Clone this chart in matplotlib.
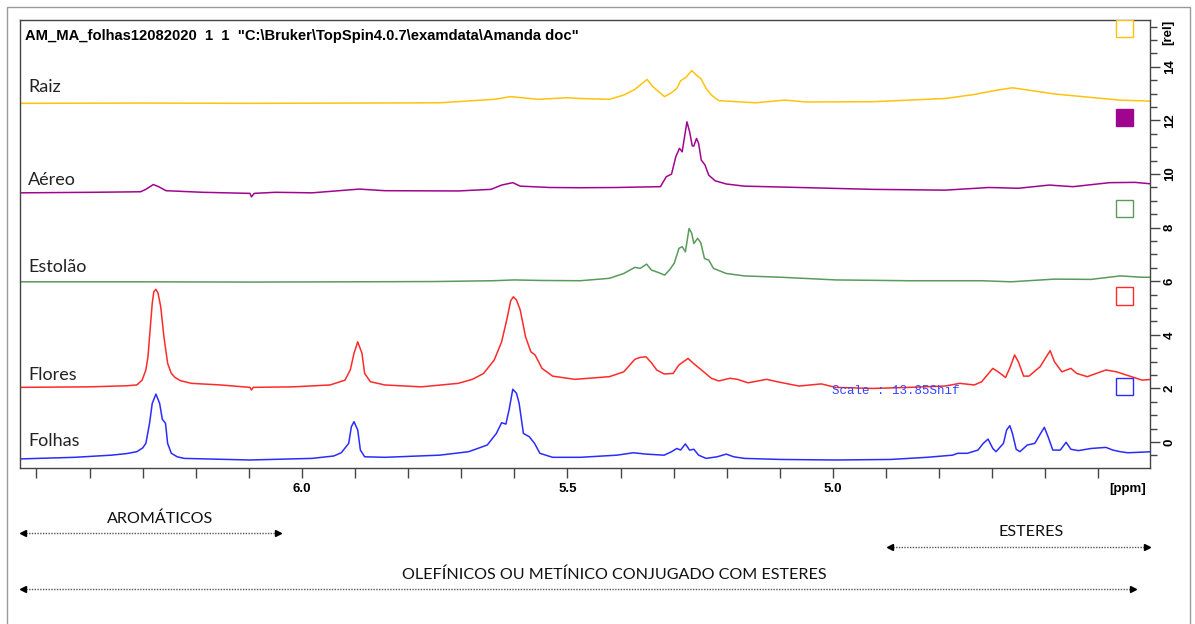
import numpy as np
import matplotlib
matplotlib.use('Agg')
import matplotlib.pyplot as plt
from matplotlib.patches import Rectangle
from matplotlib.ticker import FixedLocator, FuncFormatter
import matplotlib.transforms as mtransforms

## spectra: (ppm, intensity [rel]) points
raiz_ppm = [6.531, 6.30, 6.10, 5.90, 5.741, 5.638, 5.607, 5.555, 5.500, 5.476, 5.421, 5.394,
            5.373, 5.361, 5.350, 5.339, 5.328, 5.317, 5.304, 5.294, 5.287, 5.277, 5.266, 5.257,
            5.249, 5.239, 5.229, 5.215, 5.146, 5.091, 5.050, 4.926, 4.789, 4.734, 4.692, 4.662,
            4.624, 4.583, 4.514, 4.459, 4.398]
raiz_val = [12.64, 12.65, 12.64, 12.65, 12.66, 12.79, 12.89, 12.79, 12.85, 12.82, 12.79, 12.95,
            13.16, 13.36, 13.53, 13.26, 13.07, 12.89, 13.04, 13.20, 13.48, 13.61, 13.86, 13.69,
            13.57, 13.20, 12.95, 12.74, 12.66, 12.76, 12.69, 12.70, 12.82, 12.97, 13.13, 13.22,
            13.11, 12.99, 12.86, 12.76, 12.72]

aereo_ppm = [6.531, 6.394, 6.304, 6.294, 6.280, 6.270, 6.256, 6.187, 6.098, 6.095, 6.090, 6.050,
             5.981, 5.892, 5.844, 5.706, 5.644, 5.624, 5.603, 5.589, 5.534, 5.476, 5.407, 5.325,
             5.314, 5.304, 5.296, 5.289, 5.284, 5.279, 5.275, 5.270, 5.265, 5.262, 5.257, 5.253,
             5.248, 5.241, 5.234, 5.222, 5.201, 5.167, 5.064, 4.926, 4.789, 4.706, 4.651, 4.593,
             4.548, 4.479, 4.431, 4.398]
aereo_val = [9.30, 9.32, 9.34, 9.43, 9.61, 9.53, 9.38, 9.32, 9.28, 9.15, 9.28, 9.32,
             9.30, 9.44, 9.38, 9.37, 9.43, 9.59, 9.68, 9.55, 9.50, 9.49, 9.50, 9.53,
             9.90, 10.00, 10.65, 10.96, 10.83, 11.46, 11.95, 11.58, 11.05, 11.05, 11.33, 11.14,
             10.52, 10.34, 9.96, 9.75, 9.63, 9.55, 9.50, 9.43, 9.40, 9.50, 9.47, 9.59,
             9.53, 9.68, 9.69, 9.63]

estolao_ppm = [6.531, 6.30, 6.10, 5.90, 5.75, 5.64, 5.60, 5.55, 5.476, 5.421, 5.394, 5.373,
               5.363, 5.351, 5.342, 5.328, 5.317, 5.308, 5.299, 5.290, 5.284, 5.278, 5.271, 5.266,
               5.262, 5.255, 5.249, 5.242, 5.234, 5.225, 5.201, 5.167, 5.098, 4.995, 4.857, 4.720,
               4.665, 4.583, 4.514, 4.459, 4.418, 4.398]
estolao_val = [5.98, 5.98, 5.97, 5.98, 5.99, 6.02, 6.05, 6.03, 6.02, 6.11, 6.29, 6.52,
               6.48, 6.64, 6.42, 6.32, 6.23, 6.42, 6.67, 7.23, 7.29, 7.10, 7.97, 7.79,
               7.41, 7.60, 7.44, 6.85, 6.79, 6.48, 6.29, 6.20, 6.15, 6.05, 6.02, 6.02,
               5.98, 6.08, 6.07, 6.20, 6.15, 6.15]

flores_ppm = [6.531, 6.40, 6.330, 6.311, 6.301, 6.294, 6.290, 6.287, 6.282, 6.279, 6.275, 6.271,
              6.266, 6.260, 6.253, 6.246, 6.239, 6.229, 6.208, 6.153, 6.098, 6.095, 6.092, 6.016,
              5.947, 5.919, 5.909, 5.902, 5.895, 5.887, 5.882, 5.871, 5.844, 5.775, 5.706, 5.679,
              5.658, 5.638, 5.624, 5.613, 5.607, 5.602, 5.596, 5.589, 5.579, 5.569, 5.561, 5.548,
              5.528, 5.486, 5.421, 5.394, 5.373, 5.363, 5.352, 5.342, 5.332, 5.318, 5.301, 5.290,
              5.273, 5.263, 5.249, 5.229, 5.215, 5.194, 5.180, 5.160, 5.125, 5.105, 5.064, 5.022,
              4.995, 4.926, 4.857, 4.789, 4.761, 4.734, 4.720, 4.699, 4.689, 4.675, 4.666, 4.658,
              4.651, 4.641, 4.631, 4.610, 4.591, 4.583, 4.569, 4.552, 4.541, 4.521, 4.486, 4.466,
              4.438, 4.418, 4.400]
flores_val = [2.04, 2.06, 2.10, 2.13, 2.31, 2.69, 3.18, 3.93, 5.17, 5.61, 5.70, 5.55,
              5.05, 3.93, 2.94, 2.56, 2.41, 2.29, 2.19, 2.13, 2.04, 1.94, 2.04, 2.06,
              2.13, 2.31, 2.69, 3.31, 3.74, 3.31, 2.56, 2.25, 2.13, 2.06, 2.19, 2.34,
              2.56, 3.06, 3.74, 4.68, 5.27, 5.42, 5.30, 4.93, 3.93, 3.37, 3.25, 2.75,
              2.46, 2.34, 2.44, 2.62, 3.09, 3.16, 3.18, 2.96, 2.69, 2.54, 2.56, 2.88,
              3.12, 2.94, 2.71, 2.38, 2.28, 2.38, 2.34, 2.21, 2.34, 2.25, 2.09, 2.17,
              2.04, 2.00, 2.04, 2.09, 2.19, 2.13, 2.25, 2.75, 2.62, 2.41, 2.81, 3.25,
              3.00, 2.46, 2.46, 2.81, 3.41, 3.00, 2.62, 2.75, 2.56, 2.44, 2.69, 2.62,
              2.44, 2.31, 2.34]

folhas_ppm = [6.531, 6.428, 6.359, 6.330, 6.311, 6.300, 6.294, 6.287, 6.282, 6.275, 6.268, 6.263,
              6.257, 6.253, 6.246, 6.235, 6.222, 6.098, 5.981, 5.940, 5.926, 5.912, 5.907, 5.902,
              5.895, 5.890, 5.882, 5.844, 5.741, 5.686, 5.651, 5.634, 5.624, 5.616, 5.610, 5.603,
              5.596, 5.591, 5.583, 5.572, 5.562, 5.552, 5.528, 5.476, 5.407, 5.376, 5.352, 5.318,
              5.304, 5.294, 5.287, 5.278, 5.270, 5.262, 5.253, 5.239, 5.218, 5.201, 5.187, 5.167,
              5.098, 4.995, 4.892, 4.823, 4.775, 4.765, 4.747, 4.727, 4.717, 4.708, 4.699, 4.693,
              4.679, 4.673, 4.667, 4.662, 4.655, 4.648, 4.634, 4.620, 4.609, 4.602, 4.595, 4.586,
              4.572, 4.561, 4.552, 4.538, 4.514, 4.486, 4.473, 4.459, 4.445, 4.398]
folhas_val = [-0.63, -0.57, -0.49, -0.43, -0.36, -0.22, -0.05, 0.70, 1.44, 1.79, 1.44, 0.85,
              0.70, -0.05, -0.42, -0.55, -0.61, -0.67, -0.61, -0.52, -0.40, -0.05, 0.57, 0.76,
              0.45, -0.30, -0.55, -0.57, -0.49, -0.36, -0.11, 0.32, 0.72, 0.67, 1.20, 1.97,
              1.82, 1.44, 0.32, 0.20, -0.05, -0.42, -0.57, -0.57, -0.49, -0.40, -0.45, -0.49,
              -0.36, -0.24, -0.30, -0.07, -0.30, -0.27, -0.49, -0.61, -0.55, -0.45, -0.55, -0.61,
              -0.65, -0.67, -0.65, -0.57, -0.49, -0.42, -0.42, -0.30, -0.05, 0.11, -0.24, -0.36,
              -0.05, 0.45, 0.61, 0.32, -0.27, -0.36, -0.11, -0.05, 0.32, 0.55, 0.20, -0.30,
              -0.30, -0.01, -0.27, -0.32, -0.24, -0.20, -0.30, -0.36, -0.40, -0.36]

names = ['Raiz', 'Aéreo', 'Estolão', 'Flores', 'Folhas']
colors = ['#FFC20E', '#A0058F', '#5B9A5B', '#FF2A2A', '#2B2BFF']
label_rel = [13.25, 9.78, 6.53, 2.50, 0.04]

## region annotations below the plot (ppm ranges)
regions = [('AROMÁTICOS', 6.525, 6.045, 6.267),
           ('ESTERES', 4.893, 4.409, 4.627),
           ('OLEFÍNICOS OU METÍNICO CONJUGADO COM ESTERES', 6.525, 4.435, 5.411)]

title = 'AM_MA_folhas12082020  1  1  "C:\\Bruker\\TopSpin4.0.7\\examdata\\Amanda doc"'

W, H = 1195, 624
fig = plt.figure(figsize=(W / 100, H / 100), dpi=100)
ax = fig.add_axes([20 / W, 1 - 467.5 / H, 1130 / W, 447.5 / H])

series = [(raiz_ppm, raiz_val), (aereo_ppm, aereo_val), (estolao_ppm, estolao_val),
          (flores_ppm, flores_val), (folhas_ppm, folhas_val)]
for (p, v), c in zip(series, colors):
    ax.plot(p, v, color=c, lw=1.1, solid_joinstyle='round')

ax.set_xlim(6.531, 4.403)
ax.set_ylim(-0.95, 15.75)

## spectrum names
for n, y, c in zip(names, label_rel, colors):
    ax.text(6.516, y, n, fontsize=13, family='Lato', color='#222222', va='center', ha='left')

## colour boxes on the right edge (topspin style)
box_rel = [15.43, 12.11, 8.72, 5.45, 2.07]
for i, (y, c) in enumerate(zip(box_rel, colors)):
    r = Rectangle((4.435, y - 0.32), 0.032, 0.64, facecolor=c if i == 1 else 'white',
                  edgecolor=c, lw=1.0, zorder=5)
    ax.add_patch(r)

ax.text(5.002, 1.90, 'Scale : 13.85Shif', fontsize=9, family='Liberation Mono',
        color='#3344FF', va='center', ha='left')

ax.text(0.0044, 0.964, title, transform=ax.transAxes, fontsize=10.6, fontweight='bold',
        family='Liberation Sans', va='center', ha='left')

## axes styling
for s in ax.spines.values():
    s.set_color('#444444')
    s.set_linewidth(1.0)

ax.xaxis.set_major_locator(FixedLocator([round(4.5 + 0.1 * i, 1) for i in range(21)]))
ax.xaxis.set_major_formatter(FuncFormatter(
    lambda v, p: f'{v:.1f}' if round(v * 10) in (60, 55, 50) else ''))
ax.tick_params(axis='x', direction='out', length=7, width=1, color='#444444', pad=4,
               labelsize=9.5)
for t in ax.get_xticklabels():
    t.set_fontweight('bold')
    t.set_family('Liberation Sans')

ax.yaxis.tick_right()
ax.yaxis.set_major_locator(FixedLocator([0, 2, 4, 6, 8, 10, 12, 14]))
ax.yaxis.set_minor_locator(FixedLocator([-0.5 + 0.5 * i for i in range(33)]))
ax.tick_params(axis='y', which='major', direction='out', length=7, width=1, color='#444444',
               pad=3, labelsize=9.5, labelrotation=90)
ax.tick_params(axis='y', which='minor', direction='out', length=5, width=1, color='#444444')
for t in ax.get_yticklabels():
    t.set_fontweight('bold')
    t.set_family('Liberation Sans')
    t.set_va('center')

ax.text(4.446, -1.75, '[ppm]', fontsize=9.5, fontweight='bold', family='Liberation Sans',
        ha='center', va='center', clip_on=False)
ax.text(1.016, 15.3, '[rel]', transform=mtransforms.blended_transform_factory(ax.transAxes, ax.transData),
        fontsize=9.5, fontweight='bold', family='Liberation Sans', rotation=90,
        ha='center', va='center', clip_on=False)

## outer frame
fig.patches.append(Rectangle((7 / W, -0.05), (1190 - 7) / W, 1 - 7 / H + 0.05,
                             transform=fig.transFigure, fill=False, ec='#9a9a9a', lw=1.0))

## region annotations
tr = mtransforms.blended_transform_factory(ax.transData, fig.transFigure)
label_y = [0.1683, 0.1474, 0.0785]
arrow_y = [0.1458, 0.1234, 0.0561]
for (txt, x0, x1, xt), ly, ay in zip(regions, label_y, arrow_y):
    ax.text(xt, ly, txt, transform=tr, fontsize=11.6, family='Lato', color='#111111',
            ha='center', va='center', clip_on=False)
    ax.plot([x0, x1], [ay, ay], transform=tr, ls=(0, (1, 1)), lw=1.0, color='#555555',
            clip_on=False)
    ax.plot([x0], [ay], transform=tr, marker='<', ms=5, color='black', clip_on=False)
    ax.plot([x1], [ay], transform=tr, marker='>', ms=5, color='black', clip_on=False)

plt.savefig('out.png', dpi=100)
